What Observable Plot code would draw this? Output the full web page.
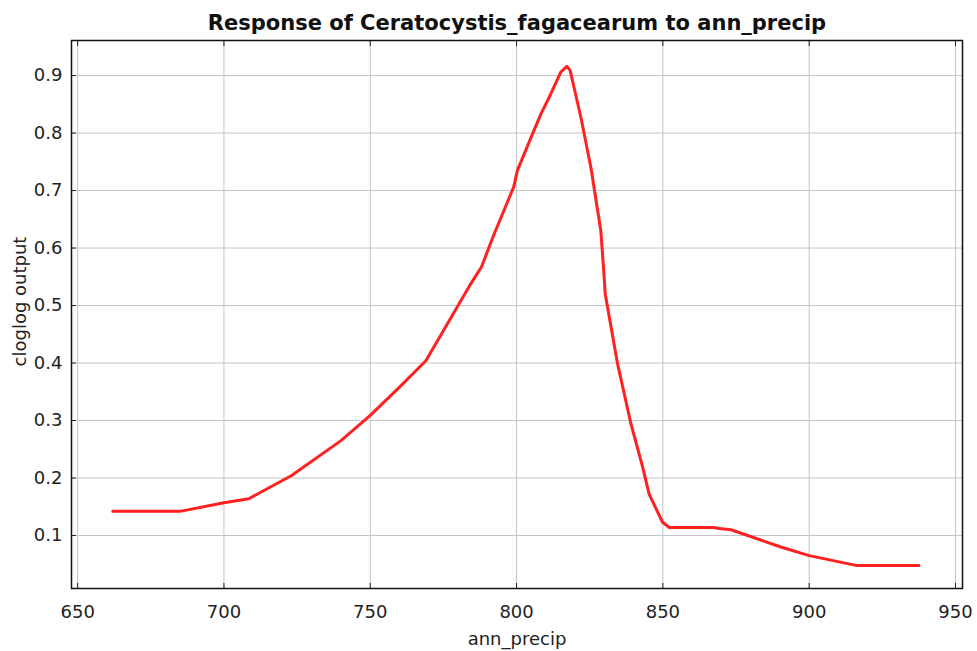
<!DOCTYPE html>
<html><head><meta charset="utf-8">
<script src="https://cdn.jsdelivr.net/npm/d3@7"></script>
<script src="https://cdn.jsdelivr.net/npm/@observablehq/plot@0.6"></script>
<style>body{margin:0;background:#fff;font-family:"DejaVu Sans",sans-serif}</style>
</head><body><div id="chart"></div>
<script>
const title = "Response of Ceratocystis_fagacearum to ann_precip";
const xLabel = "ann_precip";
const yLabel = "cloglog output";
const xTicks = [650, 700, 750, 800, 850, 900, 950];
const yTicks = [0.1, 0.2, 0.3, 0.4, 0.5, 0.6, 0.7, 0.8, 0.9];
const precip = [662, 685, 700, 708.5, 723, 740, 750, 760, 769, 784, 788, 792, 799, 800.3, 805, 808.3, 811.7, 815.1, 817.2, 818.3, 822, 825.4, 828.8, 829.8, 830.3, 834.5, 839.1, 843.1, 845.3, 849.9, 852.2, 867.5, 869.2, 873.3, 890.3, 900, 916, 937.5];
const output = [0.142, 0.142, 0.157, 0.164, 0.204, 0.265, 0.309, 0.358, 0.404, 0.535, 0.567, 0.62, 0.706, 0.735, 0.793, 0.833, 0.868, 0.906, 0.916, 0.909, 0.827, 0.740, 0.63, 0.56, 0.52, 0.399, 0.294, 0.219, 0.172, 0.123, 0.114, 0.114, 0.112, 0.110, 0.080, 0.065, 0.048, 0.048];
const data = precip.map((x, i) => ({x, y: output[i]}));

const chart = Plot.plot({
  width: 977, height: 651,
  marginLeft: 71, marginRight: 15, marginTop: 40, marginBottom: 63,
  style: {fontFamily: "DejaVu Sans, sans-serif", fontSize: "18px", color: "#222"},
  x: {domain: [647.9, 952.4]},
  y: {domain: [0.0078, 0.961]},
  marks: [
    Plot.gridX(xTicks, {stroke: "#c4c4c4", strokeOpacity: 1}),
    Plot.gridY(yTicks, {stroke: "#c4c4c4", strokeOpacity: 1}),
    Plot.axisX(xTicks, {anchor: "bottom", tickSize: -5, tickPadding: 22, label: xLabel, labelAnchor: "center", labelArrow: "none", labelOffset: 56, fontSize: 18}),
    Plot.axisX(xTicks, {anchor: "top", tickSize: -5, tickFormat: () => "", label: null}),
    Plot.axisY(yTicks, {anchor: "left", tickSize: -5, tickPadding: 14, tickFormat: d3.format(".1f"), label: null, fontSize: 18}),
    Plot.line(data, {x: "x", y: "y", stroke: "#ff2020", strokeWidth: 3, curve: "linear"}),
    Plot.frame({stroke: "#111", strokeWidth: 1.5}),
    Plot.text([yLabel], {text: d => d, frameAnchor: "left", textAnchor: "middle", lineAnchor: "middle", rotate: -90, dx: -51, dy: -13, fontSize: 18, fill: "#222"}),
    Plot.text([title], {text: d => d, frameAnchor: "top", dy: -25, fontSize: 21, fontWeight: "bold", fill: "#111"})
  ]
});
document.getElementById("chart").appendChild(chart);
</script></body></html>
